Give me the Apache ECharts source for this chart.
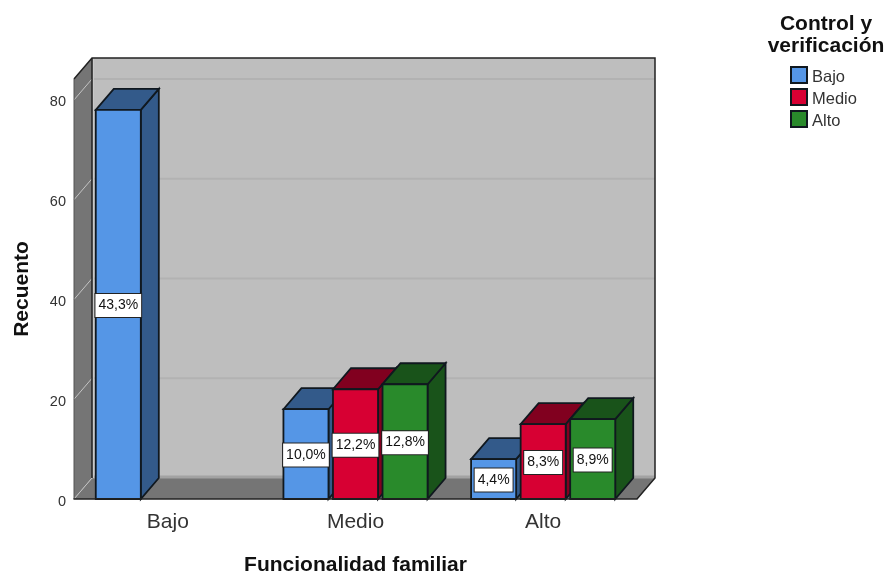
<!DOCTYPE html>
<html>
<head>
<meta charset="utf-8">
<style>html,body{margin:0;padding:0;background:#fff}#c{width:887px;height:572px}</style>
<script src="https://cdn.jsdelivr.net/npm/echarts@6/dist/echarts.min.js"></script>
</head>
<body>
<div id="c"></div>
<script>
// Recuento por funcionalidad familiar y nivel de control y verificación
const categories = ['Bajo', 'Medio', 'Alto'];
const levels = ['Bajo', 'Medio', 'Alto'];
const bajoCounts = [78, 18, 8];
const medioCounts = [null, 22, 15];
const altoCounts = [null, 23, 16];
const bajoLabels = ['43,3%', '10,0%', '4,4%'];
const medioLabels = [null, '12,2%', '8,3%'];
const altoLabels = [null, '12,8%', '8,9%'];
const yTicks = [0, 20, 40, 60, 80];
const yMax = 84.2;

const FONT = '"Liberation Sans", Arial, sans-serif';
const DX = 18, DY = -21;              // desplazamiento de profundidad
const EDGE = '#10181f';
const palette = [
  { front: '#5596e6', shade: '#335a8a' },
  { front: '#d70033', shade: '#81001f' },
  { front: '#298a2b', shade: '#19531a' }
];

const poly = (points, fill, stroke, width) => ({
  type: 'polygon',
  shape: { points },
  style: { fill, stroke: stroke || null, lineWidth: width || 0 }
});
const line = (x1, y1, x2, y2, stroke, width) => ({
  type: 'line',
  shape: { x1, y1, x2, y2 },
  style: { stroke, lineWidth: width }
});

// Paredes y suelo de la caja tridimensional
function renderChamber(params, api) {
  const g = params.coordSys;
  const l = g.x, r = g.x + g.width, t = g.y, b = g.y + g.height;
  const items = [
    poly([[l + DX, t + DY], [r + DX, t + DY], [r + DX, b + DY], [l + DX, b + DY]], '#bebebe'),
    poly([[l, t], [l + DX, t + DY], [l + DX, b + DY], [l, b]], '#757575'),
    poly([[l, b], [l + DX, b + DY], [r + DX, b + DY], [r, b]], '#757575')
  ];
  yTicks.forEach(v => {
    const y = api.coord([0, v])[1];
    if (v > 0) items.push(line(l + DX, y + DY, r + DX, y + DY, '#b2b2b2', 2));
    items.push(line(l, y, l + DX, y + DY, '#c4c4c4', 1));
  });
  items.push(line(l + DX, b + DY - 1, r + DX, b + DY - 1, '#a2a2a2', 3));
  items.push(line(l + DX + 1.5, t + DY, l + DX + 1.5, b + DY, '#c9c9c9', 1));
  items.push({
    type: 'polyline',
    shape: { points: [[l, t], [l + DX, t + DY], [r + DX, t + DY], [r + DX, b + DY], [r, b]] },
    style: { fill: null, stroke: '#222', lineWidth: 1.5 }
  });
  items.push(line(l + DX, t + DY, l + DX, b + DY, '#222', 1.5));
  items.push(line(l, t, l, b, '#555', 1));
  return { type: 'group', children: items };
}

// Barra con cara frontal, tapa y lateral; slot indica su posición dentro de la categoría
function barRenderer(slot, labels) {
  return function (params, api) {
    const value = api.value(1);
    if (value === null || isNaN(value)) return;
    const cat = api.value(0);
    const band = api.size([1, 0])[0];
    const w = band * 0.24;
    const base = api.coord([cat, 0]);
    const top = api.coord([cat, value]);
    const x0 = base[0] + slot * band * 0.264 - w / 2;
    const x1 = x0 + w;
    const yT = top[1], yB = base[1];
    const c = palette[slot + 1];
    return {
      type: 'group',
      children: [
        poly([[x1, yT], [x1 + DX, yT + DY], [x1 + DX, yB + DY], [x1, yB]], c.shade, EDGE, 1.8),
        poly([[x0, yT], [x0 + DX, yT + DY], [x1 + DX, yT + DY], [x1, yT]], c.shade, EDGE, 1.8),
        {
          type: 'rect',
          shape: { x: x0, y: yT, width: w, height: yB - yT },
          style: { fill: c.front, stroke: EDGE, lineWidth: 1.8 }
        },
        {
          type: 'text',
          z2: 10,
          style: {
            x: (x0 + x1) / 2,
            y: (yT + yB) / 2 + 1,
            text: labels[cat],
            align: 'center',
            verticalAlign: 'middle',
            font: '14px ' + FONT,
            fill: '#111',
            backgroundColor: '#fff',
            borderColor: '#222',
            borderWidth: 1,
            padding: [5, 3, 4, 3]
          }
        }
      ]
    };
  };
}

const toData = values => values.map((v, i) => [i, v === null ? NaN : v]);
const barSeries = (name, values, labels, slot) => ({
  name,
  type: 'custom',
  z: 4 + slot,
  encode: { x: 0, y: 1 },
  data: toData(values),
  renderItem: barRenderer(slot, labels),
  itemStyle: { color: palette[slot + 1].front, borderColor: EDGE, borderWidth: 1.5 },
  clip: false
});

const chart = echarts.init(document.getElementById('c'), null, { renderer: 'canvas' });
chart.setOption({
  animation: false,
  backgroundColor: '#fff',
  textStyle: { fontFamily: FONT },
  title: {
    text: 'Control y\nverificación',
    left: 821,
    top: 8,
    textAlign: 'center',
    textStyle: { fontFamily: FONT, fontSize: 21, fontWeight: 'bold', color: '#111', lineHeight: 22 }
  },
  legend: {
    left: 790,
    top: 64,
    padding: 0,
    orient: 'vertical',
    data: levels,
    icon: 'rect',
    itemWidth: 16,
    itemHeight: 16,
    itemGap: 0,
    selectedMode: false,
    formatter: '{t|{name}}',
    textStyle: {
      rich: { t: { fontFamily: FONT, fontSize: 16.5, color: '#333', lineHeight: 16, padding: [5, 0, 0, 0] } }
    }
  },
  grid: { left: 74, top: 79, width: 563, height: 420, containLabel: false, outerBoundsMode: 'none' },
  xAxis: {
    type: 'category',
    data: categories,
    z: 6,
    axisLine: { lineStyle: { color: '#222', width: 1.5 } },
    axisTick: { show: false },
    axisLabel: { fontFamily: FONT, fontSize: 21, color: '#333', margin: 13 },
    name: 'Funcionalidad familiar',
    nameLocation: 'middle',
    nameGap: 56,
    nameTextStyle: { fontFamily: FONT, fontSize: 21, fontWeight: 'bold', color: '#111' }
  },
  yAxis: {
    type: 'value',
    min: 0,
    max: yMax,
    axisLine: { show: false },
    axisTick: { show: false },
    splitLine: { show: false },
    axisLabel: {
      customValues: yTicks,
      fontFamily: FONT,
      fontSize: 14.5,
      color: '#333',
      margin: 8,
      verticalAlign: 'top',
      lineHeight: 5
    },
    name: 'Recuento',
    nameLocation: 'middle',
    nameGap: 41,
    nameTextStyle: { fontFamily: FONT, fontSize: 21, fontWeight: 'bold', color: '#111' }
  },
  series: [
    { type: 'custom', name: 'caja', z: 1, encode: { x: 0, y: 1 }, data: [[0, 0]], renderItem: renderChamber, clip: false, silent: true },
    barSeries(levels[0], bajoCounts, bajoLabels, -1),
    barSeries(levels[1], medioCounts, medioLabels, 0),
    barSeries(levels[2], altoCounts, altoLabels, 1)
  ]
});
</script>
</body>
</html>
